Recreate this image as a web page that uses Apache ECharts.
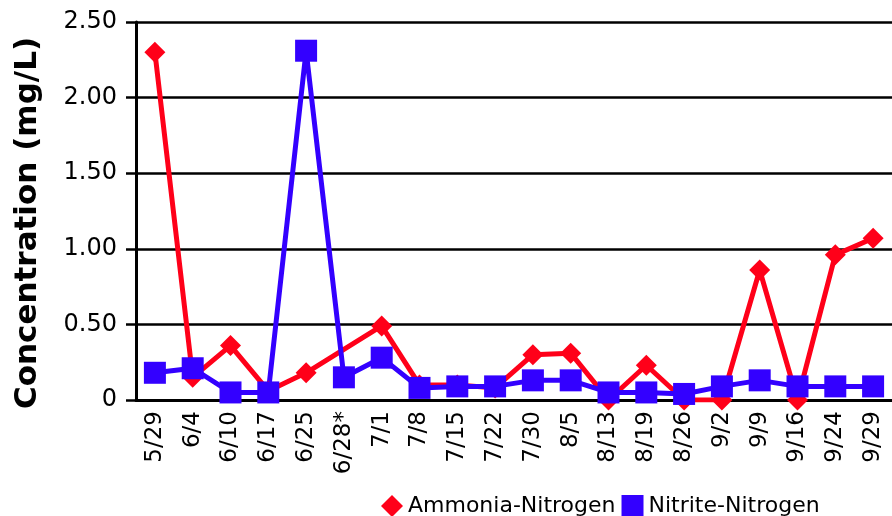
<!DOCTYPE html>
<html>
<head>
<meta charset="utf-8">
<script src="https://cdn.jsdelivr.net/npm/echarts@6/dist/echarts.min.js"></script>
<style>
  html, body { margin: 0; padding: 0; background: #fff; }
  #chart { width: 892px; height: 516px; }
</style>
</head>
<body>
<div id="chart"></div>
<script>
// sampling dates (6/28* has no ammonia reading)
const dates = ['5/29', '6/4', '6/10', '6/17', '6/25', '6/28*', '7/1', '7/8', '7/15', '7/22',
  '7/30', '8/5', '8/13', '8/19', '8/26', '9/2', '9/9', '9/16', '9/24', '9/29'];
const ammonia = [2.30, 0.15, 0.36, 0.06, 0.18, null, 0.49, 0.10, 0.10, 0.08,
  0.30, 0.31, 0.00, 0.23, 0.00, 0.00, 0.86, 0.00, 0.96, 1.07];
const nitrite = [0.18, 0.21, 0.05, 0.05, 2.31, 0.15, 0.28, 0.08, 0.09, 0.09,
  0.13, 0.13, 0.05, 0.05, 0.04, 0.09, 0.13, 0.09, 0.09, 0.09];
const yTicks = [0, 0.5, 1, 1.5, 2, 2.5];

const RED = '#ff0019';
const BLUE = '#3300ff';
const FONT = 'DejaVu Sans';

let myChart = echarts.init(document.getElementById('chart'));
myChart.setOption({
  animation: false,
  grid: { left: 136, top: 22, width: 764, height: 378 },
  legend: {
    left: 376,
    top: 490,
    itemWidth: 22,
    itemHeight: 22,
    itemGap: 6,
    textStyle: { fontFamily: FONT, fontSize: 22, color: '#000' },
    data: [
      { name: 'Ammonia-Nitrogen', icon: 'diamond' },
      { name: 'Nitrite-Nitrogen', icon: 'rect' }
    ]
  },
  graphic: [{
    type: 'text',
    x: 28,
    y: 223,
    rotation: Math.PI / 2,
    style: {
      text: 'Concentration (mg/L)',
      fontFamily: FONT,
      fontWeight: 'bold',
      fontSize: 31,
      fill: '#000',
      textAlign: 'center',
      textVerticalAlign: 'middle'
    }
  }],
  xAxis: {
    type: 'category',
    data: dates,
    boundaryGap: true,
    axisLine: { lineStyle: { color: '#000', width: 3 } },
    axisTick: { length: 8, lineStyle: { color: '#000', width: 2.5 } },
    axisLabel: {
      rotate: 90,
      interval: 0,
      margin: 11,
      fontFamily: FONT,
      fontSize: 23,
      color: '#000'
    }
  },
  yAxis: {
    type: 'value',
    min: yTicks[0],
    max: yTicks[yTicks.length - 1],
    interval: 0.5,
    axisLine: { show: true, lineStyle: { color: '#000', width: 3 } },
    axisTick: { show: true, length: 10, lineStyle: { color: '#000', width: 2.5 } },
    splitLine: { lineStyle: { color: '#000', width: 2.5 } },
    axisLabel: {
      margin: 19,
      fontFamily: FONT,
      fontSize: 24,
      color: '#000',
      formatter: v => (v === 0 ? '0' : v.toFixed(2))
    }
  },
  series: [
    {
      name: 'Ammonia-Nitrogen',
      type: 'line',
      data: ammonia,
      connectNulls: true,
      symbol: 'diamond',
      symbolSize: 21,
      itemStyle: { color: RED },
      lineStyle: { color: RED, width: 5 }
    },
    {
      name: 'Nitrite-Nitrogen',
      type: 'line',
      data: nitrite,
      symbol: 'rect',
      symbolSize: 22,
      itemStyle: { color: BLUE },
      lineStyle: { color: BLUE, width: 5 }
    }
  ]
});
</script>
</body>
</html>
